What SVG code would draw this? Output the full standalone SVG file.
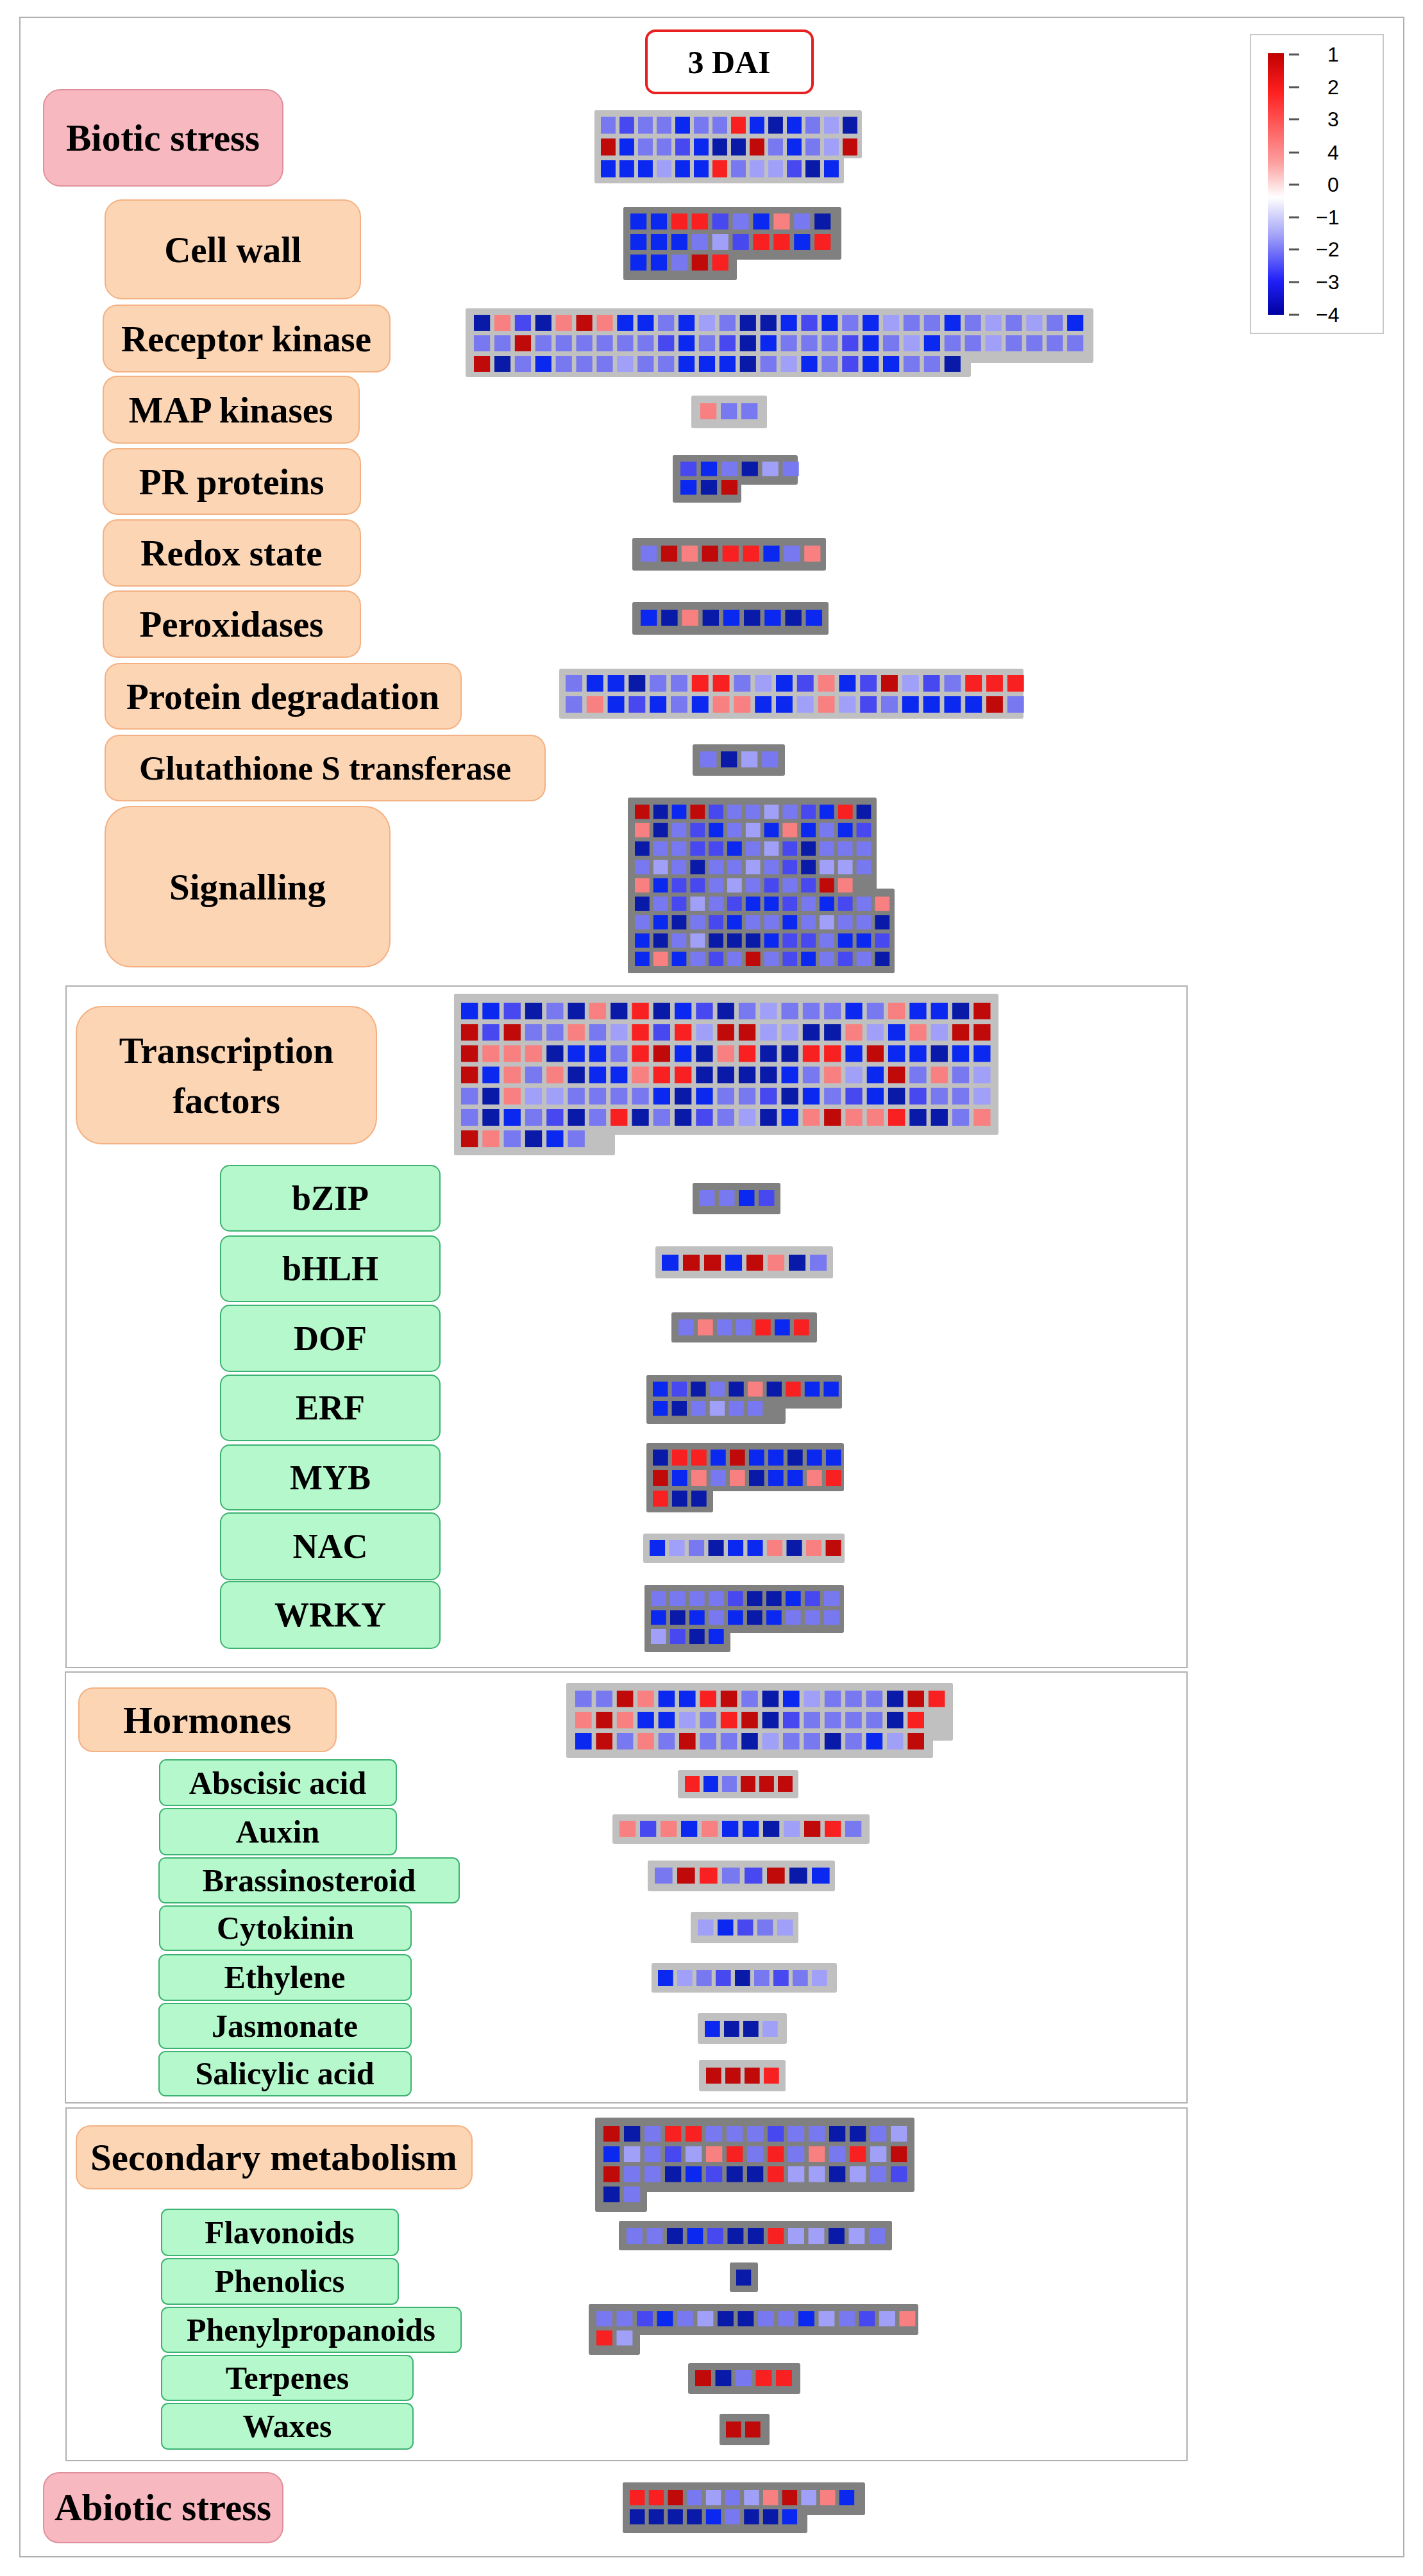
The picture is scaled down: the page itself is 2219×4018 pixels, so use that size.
<svg xmlns="http://www.w3.org/2000/svg" width="2219" height="4018" viewBox="0 0 2219 4018">
<style>
.N{fill:#0a1aa8}.B{fill:#0a28f0}.M{fill:#4848f0}.L{fill:#7878f0}.P{fill:#a0a0f8}.k{fill:#f88080}.R{fill:#f82020}.D{fill:#c00a0a}
.cells rect{width:.79px;height:.78px}
.lt{fill:#c0c0c0}.dk{fill:#808080}
.or{fill:#fcd5b4;stroke:#f4b183;stroke-width:2}
.pk{fill:#f8b8c0;stroke:#e0909a;stroke-width:2}
.gr{fill:#b5f8cb;stroke:#3cb371;stroke-width:2}
text{font-family:"Liberation Serif","Times New Roman",serif;font-weight:bold;fill:#000;text-anchor:middle;dominant-baseline:central}
.t50{font-size:57px}.t46{font-size:50px}.t48{font-size:59px}.t54{font-size:54px}
.frame{fill:none;stroke:#b0b0b0;stroke-width:2}
.lg{font-family:"Liberation Sans",Arial,sans-serif;font-size:32px;font-weight:normal;text-anchor:start}
</style>
<defs>
<linearGradient id="grad" x1="0" y1="0" x2="0" y2="1">
<stop offset="0" stop-color="#c00000"/><stop offset="0.15" stop-color="#ff2020"/><stop offset="0.42" stop-color="#fca0a0"/><stop offset="0.55" stop-color="#ffffff"/><stop offset="0.7" stop-color="#a0a0f8"/><stop offset="0.87" stop-color="#2020f8"/><stop offset="1" stop-color="#0000a0"/>
</linearGradient>
</defs>
<rect x="0" y="0" width="2219" height="4018" fill="#fff"/>
<rect class="frame" x="31" y="27" width="2158" height="3961" stroke="#ccc"/>
<g id="frames">
<rect class="frame" x="103" y="1538" width="1748" height="1063"/>
<rect class="frame" x="102" y="2608" width="1749" height="672"/>
<rect class="frame" x="103" y="3288" width="1748" height="550"/>
</g>
<g id="title"><rect x="1008" y="48" width="259" height="97" rx="14" fill="#fff" stroke="#e82020" stroke-width="4"/><text x="1137" y="97" font-size="50">3 DAI</text></g>
<g id="legend">
<rect x="1950" y="54" width="207" height="466" fill="#fff" stroke="#c8c8c8" stroke-width="2"/>
<rect x="1977" y="83" width="25" height="408" fill="url(#grad)"/>
<g stroke="#555" stroke-width="3"><line x1="2010" y1="85" x2="2026" y2="85"/><line x1="2010" y1="136" x2="2026" y2="136"/><line x1="2010" y1="186" x2="2026" y2="186"/><line x1="2010" y1="238" x2="2026" y2="238"/><line x1="2010" y1="288" x2="2026" y2="288"/><line x1="2010" y1="339" x2="2026" y2="339"/><line x1="2010" y1="389" x2="2026" y2="389"/><line x1="2010" y1="440" x2="2026" y2="440"/><line x1="2010" y1="491" x2="2026" y2="491"/></g>
<text class="lg" x="2070" y="85">1</text><text class="lg" x="2070" y="136">2</text><text class="lg" x="2070" y="186">3</text><text class="lg" x="2070" y="238">4</text><text class="lg" x="2070" y="288">0</text><text class="lg" x="2052" y="339">−1</text><text class="lg" x="2052" y="389">−2</text><text class="lg" x="2052" y="440">−3</text><text class="lg" x="2052" y="491" font-weight="bold">−4</text>
</g>

<g id="n-biotic"><rect class="pk" x="68" y="140" width="373" height="150" rx="26"/><text class="t48" x="254" y="215">Biotic stress</text>
<rect class="lt" x="927" y="172" width="417" height="75" rx="3"/><rect class="lt" x="927" y="172" width="389" height="114" rx="3"/>
<g class="cells" transform="translate(937,182) scale(29,34)">
<rect class="L"/><rect x="1" class="M"/><rect x="2" class="L"/><rect x="3" class="L"/><rect x="4" class="B"/><rect x="5" class="L"/><rect x="6" class="L"/><rect x="7" class="R"/><rect x="8" class="B"/><rect x="9" class="N"/><rect x="10" class="B"/><rect x="11" class="L"/><rect x="12" class="P"/><rect x="13" class="N"/>
<rect y="1" class="D"/><rect x="1" y="1" class="B"/><rect x="2" y="1" class="L"/><rect x="3" y="1" class="L"/><rect x="4" y="1" class="M"/><rect x="5" y="1" class="B"/><rect x="6" y="1" class="N"/><rect x="7" y="1" class="N"/><rect x="8" y="1" class="D"/><rect x="9" y="1" class="L"/><rect x="10" y="1" class="B"/><rect x="11" y="1" class="L"/><rect x="12" y="1" class="P"/><rect x="13" y="1" class="D"/>
<rect y="2" class="B"/><rect x="1" y="2" class="B"/><rect x="2" y="2" class="B"/><rect x="3" y="2" class="P"/><rect x="4" y="2" class="B"/><rect x="5" y="2" class="B"/><rect x="6" y="2" class="R"/><rect x="7" y="2" class="L"/><rect x="8" y="2" class="P"/><rect x="9" y="2" class="P"/><rect x="10" y="2" class="M"/><rect x="11" y="2" class="N"/><rect x="12" y="2" class="B"/>
</g></g>

<g id="n-cellwall"><rect class="or" x="164" y="312" width="398" height="154" rx="26"/><text class="t50" x="363" y="389">Cell wall</text>
<rect class="dk" x="972" y="323" width="340" height="82" rx="3"/><rect class="dk" x="972" y="323" width="177" height="114" rx="3"/>
<g class="cells" transform="translate(983,333) scale(31.9,32)">
<rect class="B"/><rect x="1" class="B"/><rect x="2" class="R"/><rect x="3" class="R"/><rect x="4" class="M"/><rect x="5" class="L"/><rect x="6" class="B"/><rect x="7" class="k"/><rect x="8" class="L"/><rect x="9" class="N"/>
<rect y="1" class="B"/><rect x="1" y="1" class="B"/><rect x="2" y="1" class="B"/><rect x="3" y="1" class="L"/><rect x="4" y="1" class="P"/><rect x="5" y="1" class="M"/><rect x="6" y="1" class="R"/><rect x="7" y="1" class="R"/><rect x="8" y="1" class="B"/><rect x="9" y="1" class="R"/>
<rect y="2" class="B"/><rect x="1" y="2" class="B"/><rect x="2" y="2" class="L"/><rect x="3" y="2" class="D"/><rect x="4" y="2" class="R"/>
</g></g>

<g id="n-receptor"><rect class="or" x="161" y="476" width="447" height="104" rx="22"/><text class="t50" x="384" y="528">Receptor kinase</text>
<rect class="lt" x="726" y="481" width="979" height="85" rx="3"/><rect class="lt" x="726" y="481" width="788" height="107" rx="3"/>
<g class="cells" transform="translate(739,491) scale(31.9,32)">
<rect class="N"/><rect x="1" class="k"/><rect x="2" class="M"/><rect x="3" class="N"/><rect x="4" class="k"/><rect x="5" class="D"/><rect x="6" class="k"/><rect x="7" class="B"/><rect x="8" class="B"/><rect x="9" class="L"/><rect x="10" class="B"/><rect x="11" class="P"/><rect x="12" class="L"/><rect x="13" class="N"/><rect x="14" class="N"/><rect x="15" class="B"/><rect x="16" class="M"/><rect x="17" class="B"/><rect x="18" class="L"/><rect x="19" class="B"/><rect x="20" class="P"/><rect x="21" class="L"/><rect x="22" class="L"/><rect x="23" class="B"/><rect x="24" class="L"/><rect x="25" class="P"/><rect x="26" class="L"/><rect x="27" class="P"/><rect x="28" class="L"/><rect x="29" class="B"/>
<rect y="1" class="L"/><rect x="1" y="1" class="L"/><rect x="2" y="1" class="D"/><rect x="3" y="1" class="L"/><rect x="4" y="1" class="L"/><rect x="5" y="1" class="L"/><rect x="6" y="1" class="L"/><rect x="7" y="1" class="L"/><rect x="8" y="1" class="L"/><rect x="9" y="1" class="M"/><rect x="10" y="1" class="B"/><rect x="11" y="1" class="L"/><rect x="12" y="1" class="M"/><rect x="13" y="1" class="N"/><rect x="14" y="1" class="B"/><rect x="15" y="1" class="L"/><rect x="16" y="1" class="L"/><rect x="17" y="1" class="L"/><rect x="18" y="1" class="M"/><rect x="19" y="1" class="B"/><rect x="20" y="1" class="L"/><rect x="21" y="1" class="P"/><rect x="22" y="1" class="B"/><rect x="23" y="1" class="L"/><rect x="24" y="1" class="L"/><rect x="25" y="1" class="P"/><rect x="26" y="1" class="L"/><rect x="27" y="1" class="L"/><rect x="28" y="1" class="L"/><rect x="29" y="1" class="L"/>
<rect y="2" class="D"/><rect x="1" y="2" class="N"/><rect x="2" y="2" class="L"/><rect x="3" y="2" class="B"/><rect x="4" y="2" class="L"/><rect x="5" y="2" class="L"/><rect x="6" y="2" class="L"/><rect x="7" y="2" class="P"/><rect x="8" y="2" class="L"/><rect x="9" y="2" class="L"/><rect x="10" y="2" class="B"/><rect x="11" y="2" class="B"/><rect x="12" y="2" class="B"/><rect x="13" y="2" class="N"/><rect x="14" y="2" class="L"/><rect x="15" y="2" class="P"/><rect x="16" y="2" class="B"/><rect x="17" y="2" class="L"/><rect x="18" y="2" class="M"/><rect x="19" y="2" class="B"/><rect x="20" y="2" class="B"/><rect x="21" y="2" class="L"/><rect x="22" y="2" class="L"/><rect x="23" y="2" class="N"/>
</g></g>

<g id="n-map"><rect class="or" x="161" y="587" width="399" height="104" rx="22"/><text class="t50" x="360" y="639">MAP kinases</text>
<rect class="lt" x="1078" y="617" width="118" height="51" rx="3"/>
<g class="cells" transform="translate(1092,629) scale(32,32)"><rect class="k"/><rect x="1" class="L"/><rect x="2" class="L"/></g></g>

<g id="n-pr"><rect class="or" x="161" y="700" width="401" height="102" rx="22"/><text class="t50" x="361" y="751">PR proteins</text>
<rect class="dk" x="1049" y="710" width="195" height="46" rx="3"/><rect class="dk" x="1049" y="710" width="107" height="74" rx="3"/>
<g class="cells" transform="translate(1061,720) scale(31.9,29)"><rect class="M"/><rect x="1" class="B"/><rect x="2" class="L"/><rect x="3" class="N"/><rect x="4" class="P"/><rect x="5" class="L"/>
<rect y="1" class="B"/><rect x="1" y="1" class="N"/><rect x="2" y="1" class="D"/></g></g>

<g id="n-redox"><rect class="or" x="161" y="811" width="401" height="103" rx="22"/><text class="t50" x="361" y="862">Redox state</text>
<rect class="dk" x="986" y="839" width="302" height="51" rx="3"/>
<g class="cells" transform="translate(999,851) scale(31.9,32)"><rect class="L"/><rect x="1" class="D"/><rect x="2" class="k"/><rect x="3" class="D"/><rect x="4" class="R"/><rect x="5" class="R"/><rect x="6" class="B"/><rect x="7" class="L"/><rect x="8" class="k"/></g></g>

<g id="n-perox"><rect class="or" x="161" y="922" width="401" height="103" rx="22"/><text class="t50" x="361" y="973">Peroxidases</text>
<rect class="dk" x="986" y="939" width="306" height="51" rx="3"/>
<g class="cells" transform="translate(999,951) scale(32.2,32)"><rect class="B"/><rect x="1" class="N"/><rect x="2" class="k"/><rect x="3" class="N"/><rect x="4" class="B"/><rect x="5" class="N"/><rect x="6" class="B"/><rect x="7" class="N"/><rect x="8" class="B"/></g></g>

<g id="n-protdeg"><rect class="or" x="164" y="1035" width="555" height="102" rx="22"/><text class="t50" x="441" y="1086">Protein degradation</text>
<rect class="lt" x="872" y="1043" width="724" height="78" rx="3"/>
<g class="cells" transform="translate(882,1053) scale(32.8,33)">
<rect class="L"/><rect x="1" class="B"/><rect x="2" class="B"/><rect x="3" class="N"/><rect x="4" class="L"/><rect x="5" class="L"/><rect x="6" class="R"/><rect x="7" class="R"/><rect x="8" class="L"/><rect x="9" class="P"/><rect x="10" class="B"/><rect x="11" class="M"/><rect x="12" class="k"/><rect x="13" class="B"/><rect x="14" class="M"/><rect x="15" class="D"/><rect x="16" class="P"/><rect x="17" class="M"/><rect x="18" class="L"/><rect x="19" class="R"/><rect x="20" class="R"/><rect x="21" class="R"/>
<rect y="1" class="L"/><rect x="1" y="1" class="k"/><rect x="2" y="1" class="B"/><rect x="3" y="1" class="M"/><rect x="4" y="1" class="B"/><rect x="5" y="1" class="L"/><rect x="6" y="1" class="B"/><rect x="7" y="1" class="k"/><rect x="8" y="1" class="k"/><rect x="9" y="1" class="B"/><rect x="10" y="1" class="B"/><rect x="11" y="1" class="P"/><rect x="12" y="1" class="k"/><rect x="13" y="1" class="P"/><rect x="14" y="1" class="M"/><rect x="15" y="1" class="L"/><rect x="16" y="1" class="B"/><rect x="17" y="1" class="B"/><rect x="18" y="1" class="B"/><rect x="19" y="1" class="B"/><rect x="20" y="1" class="D"/><rect x="21" y="1" class="L"/>
</g></g>

<g id="n-gst"><rect class="or" x="164" y="1147" width="686" height="102" rx="22"/><text x="507" y="1198" font-size="53">Glutathione S transferase</text>
<rect class="dk" x="1080" y="1161" width="144" height="49" rx="3"/>
<g class="cells" transform="translate(1092,1172) scale(32,32)"><rect class="L"/><rect x="1" class="N"/><rect x="2" class="P"/><rect x="3" class="L"/></g></g>

<g id="n-signal"><rect class="or" x="164" y="1258" width="444" height="250" rx="40"/><text class="t50" x="386" y="1383">Signalling</text>
<rect class="dk" x="979" y="1244" width="388" height="274" rx="3"/><rect class="dk" x="979" y="1386" width="416" height="132" rx="3"/>
<g class="cells" transform="translate(990,1255) scale(28.8,28.7)">
<rect class="D"/><rect x="1" class="N"/><rect x="2" class="B"/><rect x="3" class="D"/><rect x="4" class="M"/><rect x="5" class="L"/><rect x="6" class="L"/><rect x="7" class="P"/><rect x="8" class="L"/><rect x="9" class="M"/><rect x="10" class="B"/><rect x="11" class="R"/><rect x="12" class="N"/>
<rect y="1" class="k"/><rect x="1" y="1" class="N"/><rect x="2" y="1" class="L"/><rect x="3" y="1" class="M"/><rect x="4" y="1" class="B"/><rect x="5" y="1" class="L"/><rect x="6" y="1" class="P"/><rect x="7" y="1" class="B"/><rect x="8" y="1" class="k"/><rect x="9" y="1" class="B"/><rect x="10" y="1" class="L"/><rect x="11" y="1" class="B"/><rect x="12" y="1" class="M"/>
<rect y="2" class="N"/><rect x="1" y="2" class="L"/><rect x="2" y="2" class="L"/><rect x="3" y="2" class="M"/><rect x="4" y="2" class="M"/><rect x="5" y="2" class="B"/><rect x="6" y="2" class="L"/><rect x="7" y="2" class="P"/><rect x="8" y="2" class="M"/><rect x="9" y="2" class="N"/><rect x="10" y="2" class="L"/><rect x="11" y="2" class="L"/><rect x="12" y="2" class="L"/>
<rect y="3" class="L"/><rect x="1" y="3" class="P"/><rect x="2" y="3" class="L"/><rect x="3" y="3" class="N"/><rect x="4" y="3" class="L"/><rect x="5" y="3" class="L"/><rect x="6" y="3" class="P"/><rect x="7" y="3" class="L"/><rect x="8" y="3" class="M"/><rect x="9" y="3" class="N"/><rect x="10" y="3" class="P"/><rect x="11" y="3" class="P"/><rect x="12" y="3" class="L"/>
<rect y="4" class="k"/><rect x="1" y="4" class="B"/><rect x="2" y="4" class="M"/><rect x="3" y="4" class="M"/><rect x="4" y="4" class="L"/><rect x="5" y="4" class="P"/><rect x="6" y="4" class="L"/><rect x="7" y="4" class="M"/><rect x="8" y="4" class="L"/><rect x="9" y="4" class="M"/><rect x="10" y="4" class="D"/><rect x="11" y="4" class="k"/>
<rect y="5" class="N"/><rect x="1" y="5" class="L"/><rect x="2" y="5" class="M"/><rect x="3" y="5" class="P"/><rect x="4" y="5" class="L"/><rect x="5" y="5" class="M"/><rect x="6" y="5" class="B"/><rect x="7" y="5" class="B"/><rect x="8" y="5" class="M"/><rect x="9" y="5" class="L"/><rect x="10" y="5" class="B"/><rect x="11" y="5" class="M"/><rect x="12" y="5" class="L"/><rect x="13" y="5" class="k"/>
<rect y="6" class="L"/><rect x="1" y="6" class="B"/><rect x="2" y="6" class="N"/><rect x="3" y="6" class="L"/><rect x="4" y="6" class="M"/><rect x="5" y="6" class="B"/><rect x="6" y="6" class="L"/><rect x="7" y="6" class="L"/><rect x="8" y="6" class="B"/><rect x="9" y="6" class="L"/><rect x="10" y="6" class="P"/><rect x="11" y="6" class="L"/><rect x="12" y="6" class="L"/><rect x="13" y="6" class="N"/>
<rect y="7" class="B"/><rect x="1" y="7" class="N"/><rect x="2" y="7" class="L"/><rect x="3" y="7" class="P"/><rect x="4" y="7" class="N"/><rect x="5" y="7" class="N"/><rect x="6" y="7" class="N"/><rect x="7" y="7" class="B"/><rect x="8" y="7" class="M"/><rect x="9" y="7" class="M"/><rect x="10" y="7" class="L"/><rect x="11" y="7" class="B"/><rect x="12" y="7" class="B"/><rect x="13" y="7" class="M"/>
<rect y="8" class="B"/><rect x="1" y="8" class="k"/><rect x="2" y="8" class="B"/><rect x="3" y="8" class="L"/><rect x="4" y="8" class="M"/><rect x="5" y="8" class="L"/><rect x="6" y="8" class="D"/><rect x="7" y="8" class="L"/><rect x="8" y="8" class="M"/><rect x="9" y="8" class="B"/><rect x="10" y="8" class="L"/><rect x="11" y="8" class="M"/><rect x="12" y="8" class="L"/><rect x="13" y="8" class="N"/>
</g></g>

<g id="n-tf"><rect class="or" x="119" y="1570" width="468" height="214" rx="40"/><text class="t50" x="353" y="1638">Transcription</text><text class="t50" x="353" y="1716">factors</text>
<rect class="lt" x="708" y="1550" width="849" height="220" rx="3"/><rect class="lt" x="708" y="1550" width="251" height="252" rx="3"/>
<g class="cells" transform="translate(719,1564) scale(33.3,33.2)">
<rect class="B"/><rect x="1" class="B"/><rect x="2" class="M"/><rect x="3" class="N"/><rect x="4" class="L"/><rect x="5" class="N"/><rect x="6" class="k"/><rect x="7" class="N"/><rect x="8" class="R"/><rect x="9" class="N"/><rect x="10" class="B"/><rect x="11" class="M"/><rect x="12" class="N"/><rect x="13" class="L"/><rect x="14" class="P"/><rect x="15" class="L"/><rect x="16" class="L"/><rect x="17" class="L"/><rect x="18" class="B"/><rect x="19" class="L"/><rect x="20" class="k"/><rect x="21" class="B"/><rect x="22" class="B"/><rect x="23" class="N"/><rect x="24" class="D"/>
<rect y="1" class="D"/><rect x="1" y="1" class="M"/><rect x="2" y="1" class="D"/><rect x="3" y="1" class="L"/><rect x="4" y="1" class="L"/><rect x="5" y="1" class="k"/><rect x="6" y="1" class="L"/><rect x="7" y="1" class="P"/><rect x="8" y="1" class="R"/><rect x="9" y="1" class="M"/><rect x="10" y="1" class="R"/><rect x="11" y="1" class="P"/><rect x="12" y="1" class="D"/><rect x="13" y="1" class="D"/><rect x="14" y="1" class="P"/><rect x="15" y="1" class="P"/><rect x="16" y="1" class="N"/><rect x="17" y="1" class="N"/><rect x="18" y="1" class="k"/><rect x="19" y="1" class="P"/><rect x="20" y="1" class="B"/><rect x="21" y="1" class="k"/><rect x="22" y="1" class="P"/><rect x="23" y="1" class="D"/><rect x="24" y="1" class="D"/>
<rect y="2" class="D"/><rect x="1" y="2" class="k"/><rect x="2" y="2" class="k"/><rect x="3" y="2" class="k"/><rect x="4" y="2" class="N"/><rect x="5" y="2" class="B"/><rect x="6" y="2" class="B"/><rect x="7" y="2" class="L"/><rect x="8" y="2" class="R"/><rect x="9" y="2" class="D"/><rect x="10" y="2" class="B"/><rect x="11" y="2" class="N"/><rect x="12" y="2" class="k"/><rect x="13" y="2" class="R"/><rect x="14" y="2" class="N"/><rect x="15" y="2" class="N"/><rect x="16" y="2" class="R"/><rect x="17" y="2" class="R"/><rect x="18" y="2" class="B"/><rect x="19" y="2" class="D"/><rect x="20" y="2" class="B"/><rect x="21" y="2" class="B"/><rect x="22" y="2" class="N"/><rect x="23" y="2" class="B"/><rect x="24" y="2" class="B"/>
<rect y="3" class="D"/><rect x="1" y="3" class="B"/><rect x="2" y="3" class="k"/><rect x="3" y="3" class="L"/><rect x="4" y="3" class="k"/><rect x="5" y="3" class="N"/><rect x="6" y="3" class="B"/><rect x="7" y="3" class="B"/><rect x="8" y="3" class="k"/><rect x="9" y="3" class="R"/><rect x="10" y="3" class="R"/><rect x="11" y="3" class="N"/><rect x="12" y="3" class="N"/><rect x="13" y="3" class="N"/><rect x="14" y="3" class="N"/><rect x="15" y="3" class="B"/><rect x="16" y="3" class="L"/><rect x="17" y="3" class="k"/><rect x="18" y="3" class="P"/><rect x="19" y="3" class="B"/><rect x="20" y="3" class="D"/><rect x="21" y="3" class="L"/><rect x="22" y="3" class="k"/><rect x="23" y="3" class="L"/><rect x="24" y="3" class="P"/>
<rect y="4" class="L"/><rect x="1" y="4" class="N"/><rect x="2" y="4" class="k"/><rect x="3" y="4" class="P"/><rect x="4" y="4" class="P"/><rect x="5" y="4" class="L"/><rect x="6" y="4" class="L"/><rect x="7" y="4" class="L"/><rect x="8" y="4" class="L"/><rect x="9" y="4" class="B"/><rect x="10" y="4" class="N"/><rect x="11" y="4" class="B"/><rect x="12" y="4" class="L"/><rect x="13" y="4" class="L"/><rect x="14" y="4" class="M"/><rect x="15" y="4" class="N"/><rect x="16" y="4" class="B"/><rect x="17" y="4" class="L"/><rect x="18" y="4" class="M"/><rect x="19" y="4" class="B"/><rect x="20" y="4" class="N"/><rect x="21" y="4" class="M"/><rect x="22" y="4" class="L"/><rect x="23" y="4" class="L"/><rect x="24" y="4" class="P"/>
<rect y="5" class="L"/><rect x="1" y="5" class="N"/><rect x="2" y="5" class="B"/><rect x="3" y="5" class="L"/><rect x="4" y="5" class="M"/><rect x="5" y="5" class="N"/><rect x="6" y="5" class="L"/><rect x="7" y="5" class="R"/><rect x="8" y="5" class="N"/><rect x="9" y="5" class="L"/><rect x="10" y="5" class="N"/><rect x="11" y="5" class="M"/><rect x="12" y="5" class="L"/><rect x="13" y="5" class="P"/><rect x="14" y="5" class="N"/><rect x="15" y="5" class="B"/><rect x="16" y="5" class="k"/><rect x="17" y="5" class="D"/><rect x="18" y="5" class="k"/><rect x="19" y="5" class="k"/><rect x="20" y="5" class="R"/><rect x="21" y="5" class="N"/><rect x="22" y="5" class="N"/><rect x="23" y="5" class="L"/><rect x="24" y="5" class="k"/>
<rect y="6" class="D"/><rect x="1" y="6" class="k"/><rect x="2" y="6" class="L"/><rect x="3" y="6" class="N"/><rect x="4" y="6" class="B"/><rect x="5" y="6" class="L"/>
</g></g>

<g id="n-bzip"><rect class="gr" x="344" y="1818" width="342" height="102" rx="14"/><text class="t54" x="515" y="1869">bZIP</text>
<rect class="dk" x="1080" y="1845" width="137" height="49" rx="3"/>
<g class="cells" transform="translate(1090,1856) scale(31,32)"><rect class="L"/><rect x="1" class="L"/><rect x="2" class="B"/><rect x="3" class="M"/></g></g>

<g id="n-bhlh"><rect class="gr" x="344" y="1928" width="342" height="102" rx="14"/><text class="t54" x="515" y="1979">bHLH</text>
<rect class="lt" x="1022" y="1944" width="277" height="50" rx="3"/>
<g class="cells" transform="translate(1032,1957) scale(33,32)"><rect class="B"/><rect x="1" class="D"/><rect x="2" class="D"/><rect x="3" class="B"/><rect x="4" class="D"/><rect x="5" class="k"/><rect x="6" class="N"/><rect x="7" class="L"/></g></g>

<g id="n-dof"><rect class="gr" x="344" y="2036" width="342" height="103" rx="14"/><text class="t54" x="515" y="2088">DOF</text>
<rect class="dk" x="1047" y="2047" width="227" height="47" rx="3"/>
<g class="cells" transform="translate(1058,2058) scale(30,32)"><rect class="L"/><rect x="1" class="k"/><rect x="2" class="L"/><rect x="3" class="L"/><rect x="4" class="R"/><rect x="5" class="B"/><rect x="6" class="R"/></g></g>

<g id="n-erf"><rect class="gr" x="344" y="2145" width="342" height="102" rx="14"/><text class="t54" x="515" y="2196">ERF</text>
<rect class="dk" x="1008" y="2145" width="305" height="52" rx="3"/><rect class="dk" x="1008" y="2145" width="217" height="76" rx="3"/>
<g class="cells" transform="translate(1018,2155) scale(29.6,30)"><rect class="B"/><rect x="1" class="M"/><rect x="2" class="N"/><rect x="3" class="L"/><rect x="4" class="N"/><rect x="5" class="k"/><rect x="6" class="N"/><rect x="7" class="R"/><rect x="8" class="B"/><rect x="9" class="B"/>
<rect y="1" class="B"/><rect x="1" y="1" class="N"/><rect x="2" y="1" class="L"/><rect x="3" y="1" class="P"/><rect x="4" y="1" class="L"/><rect x="5" y="1" class="L"/></g></g>

<g id="n-myb"><rect class="gr" x="344" y="2254" width="342" height="101" rx="14"/><text class="t54" x="515" y="2305">MYB</text>
<rect class="dk" x="1008" y="2251" width="308" height="75" rx="3"/><rect class="dk" x="1008" y="2251" width="104" height="108" rx="3"/>
<g class="cells" transform="translate(1018,2261) scale(30,32)"><rect class="N"/><rect x="1" class="R"/><rect x="2" class="R"/><rect x="3" class="B"/><rect x="4" class="D"/><rect x="5" class="B"/><rect x="6" class="B"/><rect x="7" class="N"/><rect x="8" class="B"/><rect x="9" class="B"/>
<rect y="1" class="D"/><rect x="1" y="1" class="B"/><rect x="2" y="1" class="k"/><rect x="3" y="1" class="L"/><rect x="4" y="1" class="k"/><rect x="5" y="1" class="N"/><rect x="6" y="1" class="B"/><rect x="7" y="1" class="B"/><rect x="8" y="1" class="k"/><rect x="9" y="1" class="R"/>
<rect y="2" class="R"/><rect x="1" y="2" class="N"/><rect x="2" y="2" class="N"/></g></g>

<g id="n-nac"><rect class="gr" x="344" y="2360" width="342" height="104" rx="14"/><text class="t54" x="515" y="2412">NAC</text>
<rect class="lt" x="1003" y="2392" width="314" height="46" rx="3"/>
<g class="cells" transform="translate(1013,2402) scale(30.5,32)"><rect class="B"/><rect x="1" class="P"/><rect x="2" class="L"/><rect x="3" class="N"/><rect x="4" class="B"/><rect x="5" class="B"/><rect x="6" class="k"/><rect x="7" class="N"/><rect x="8" class="k"/><rect x="9" class="D"/></g></g>

<g id="n-wrky"><rect class="gr" x="344" y="2467" width="342" height="104" rx="14"/><text class="t54" x="515" y="2519">WRKY</text>
<rect class="dk" x="1005" y="2472" width="311" height="75" rx="3"/><rect class="dk" x="1005" y="2472" width="134" height="105" rx="3"/>
<g class="cells" transform="translate(1015,2482) scale(30,29.5)"><rect class="L"/><rect x="1" class="L"/><rect x="2" class="L"/><rect x="3" class="L"/><rect x="4" class="M"/><rect x="5" class="N"/><rect x="6" class="N"/><rect x="7" class="B"/><rect x="8" class="M"/><rect x="9" class="L"/>
<rect y="1" class="B"/><rect x="1" y="1" class="N"/><rect x="2" y="1" class="B"/><rect x="3" y="1" class="L"/><rect x="4" y="1" class="B"/><rect x="5" y="1" class="N"/><rect x="6" y="1" class="B"/><rect x="7" y="1" class="L"/><rect x="8" y="1" class="L"/><rect x="9" y="1" class="L"/>
<rect y="2" class="P"/><rect x="1" y="2" class="M"/><rect x="2" y="2" class="N"/><rect x="3" y="2" class="B"/></g></g>

<g id="n-hormones"><rect class="or" x="123" y="2633" width="401" height="99" rx="22"/><text class="t48" x="323" y="2683">Hormones</text>
<rect class="lt" x="883" y="2625" width="603" height="90" rx="3"/><rect class="lt" x="883" y="2625" width="572" height="117" rx="3"/>
<g class="cells" transform="translate(897,2637) scale(32.4,33)">
<rect class="L"/><rect x="1" class="L"/><rect x="2" class="D"/><rect x="3" class="k"/><rect x="4" class="B"/><rect x="5" class="B"/><rect x="6" class="R"/><rect x="7" class="D"/><rect x="8" class="L"/><rect x="9" class="N"/><rect x="10" class="B"/><rect x="11" class="P"/><rect x="12" class="L"/><rect x="13" class="L"/><rect x="14" class="L"/><rect x="15" class="N"/><rect x="16" class="D"/><rect x="17" class="R"/>
<rect y="1" class="k"/><rect x="1" y="1" class="D"/><rect x="2" y="1" class="k"/><rect x="3" y="1" class="B"/><rect x="4" y="1" class="B"/><rect x="5" y="1" class="P"/><rect x="6" y="1" class="L"/><rect x="7" y="1" class="R"/><rect x="8" y="1" class="D"/><rect x="9" y="1" class="N"/><rect x="10" y="1" class="M"/><rect x="11" y="1" class="L"/><rect x="12" y="1" class="L"/><rect x="13" y="1" class="L"/><rect x="14" y="1" class="L"/><rect x="15" y="1" class="N"/><rect x="16" y="1" class="R"/>
<rect y="2" class="B"/><rect x="1" y="2" class="D"/><rect x="2" y="2" class="L"/><rect x="3" y="2" class="k"/><rect x="4" y="2" class="L"/><rect x="5" y="2" class="D"/><rect x="6" y="2" class="L"/><rect x="7" y="2" class="L"/><rect x="8" y="2" class="N"/><rect x="9" y="2" class="P"/><rect x="10" y="2" class="L"/><rect x="11" y="2" class="L"/><rect x="12" y="2" class="N"/><rect x="13" y="2" class="L"/><rect x="14" y="2" class="B"/><rect x="15" y="2" class="P"/><rect x="16" y="2" class="D"/>
</g></g>

<g id="n-aba"><rect class="gr" x="249" y="2745" width="369" height="71" rx="10"/><text class="t46" x="433" y="2781">Abscisic acid</text>
<rect class="lt" x="1057" y="2761" width="188" height="44" rx="3"/>
<g class="cells" transform="translate(1068,2770) scale(29,32)"><rect class="R"/><rect x="1" class="B"/><rect x="2" class="L"/><rect x="3" class="D"/><rect x="4" class="D"/><rect x="5" class="D"/></g></g>

<g id="n-auxin"><rect class="gr" x="249" y="2821" width="369" height="72" rx="10"/><text class="t46" x="433" y="2857">Auxin</text>
<rect class="lt" x="955" y="2830" width="401" height="46" rx="3"/>
<g class="cells" transform="translate(966,2840) scale(32,32)"><rect class="k"/><rect x="1" class="M"/><rect x="2" class="k"/><rect x="3" class="B"/><rect x="4" class="k"/><rect x="5" class="B"/><rect x="6" class="B"/><rect x="7" class="N"/><rect x="8" class="P"/><rect x="9" class="D"/><rect x="10" class="R"/><rect x="11" class="L"/></g></g>

<g id="n-brass"><rect class="gr" x="248" y="2898" width="468" height="70" rx="10"/><text class="t46" x="482" y="2933">Brassinosteroid</text>
<rect class="lt" x="1010" y="2902" width="292" height="48" rx="3"/>
<g class="cells" transform="translate(1021,2913) scale(35,32)"><rect class="L"/><rect x="1" class="D"/><rect x="2" class="R"/><rect x="3" class="L"/><rect x="4" class="M"/><rect x="5" class="D"/><rect x="6" class="N"/><rect x="7" class="B"/></g></g>

<g id="n-cyto"><rect class="gr" x="249" y="2973" width="392" height="69" rx="10"/><text class="t46" x="445" y="3007">Cytokinin</text>
<rect class="lt" x="1077" y="2982" width="168" height="49" rx="3"/>
<g class="cells" transform="translate(1088,2994) scale(31,32)"><rect class="P"/><rect x="1" class="B"/><rect x="2" class="M"/><rect x="3" class="L"/><rect x="4" class="P"/></g></g>

<g id="n-eth"><rect class="gr" x="248" y="3049" width="393" height="71" rx="10"/><text class="t46" x="444" y="3084">Ethylene</text>
<rect class="lt" x="1016" y="3062" width="289" height="46" rx="3"/>
<g class="cells" transform="translate(1026,3073) scale(30,32)"><rect class="B"/><rect x="1" class="P"/><rect x="2" class="L"/><rect x="3" class="M"/><rect x="4" class="N"/><rect x="5" class="L"/><rect x="6" class="M"/><rect x="7" class="L"/><rect x="8" class="P"/></g></g>

<g id="n-jas"><rect class="gr" x="248" y="3125" width="393" height="70" rx="10"/><text class="t46" x="444" y="3160">Jasmonate</text>
<rect class="lt" x="1088" y="3140" width="139" height="48" rx="3"/>
<g class="cells" transform="translate(1099,3152) scale(30,32)"><rect class="B"/><rect x="1" class="N"/><rect x="2" class="N"/><rect x="3" class="P"/></g></g>

<g id="n-sal"><rect class="gr" x="248" y="3200" width="393" height="69" rx="10"/><text class="t46" x="444" y="3234">Salicylic acid</text>
<rect class="lt" x="1090" y="3213" width="135" height="49" rx="3"/>
<g class="cells" transform="translate(1101,3225) scale(30,32)"><rect class="D"/><rect x="1" class="D"/><rect x="2" class="D"/><rect x="3" class="R"/></g></g>

<g id="n-secmet"><rect class="or" x="119" y="3316" width="617" height="98" rx="22"/><text class="t48" x="427" y="3365">Secondary metabolism</text>
<rect class="dk" x="928" y="3303" width="498" height="116" rx="3"/><rect class="dk" x="928" y="3303" width="81" height="147" rx="3"/>
<g class="cells" transform="translate(941,3316) scale(32,31.5)">
<rect class="D"/><rect x="1" class="N"/><rect x="2" class="L"/><rect x="3" class="R"/><rect x="4" class="R"/><rect x="5" class="L"/><rect x="6" class="L"/><rect x="7" class="L"/><rect x="8" class="M"/><rect x="9" class="L"/><rect x="10" class="L"/><rect x="11" class="N"/><rect x="12" class="N"/><rect x="13" class="L"/><rect x="14" class="P"/>
<rect y="1" class="B"/><rect x="1" y="1" class="P"/><rect x="2" y="1" class="L"/><rect x="3" y="1" class="M"/><rect x="4" y="1" class="P"/><rect x="5" y="1" class="k"/><rect x="6" y="1" class="R"/><rect x="7" y="1" class="L"/><rect x="8" y="1" class="R"/><rect x="9" y="1" class="L"/><rect x="10" y="1" class="k"/><rect x="11" y="1" class="L"/><rect x="12" y="1" class="R"/><rect x="13" y="1" class="P"/><rect x="14" y="1" class="D"/>
<rect y="2" class="D"/><rect x="1" y="2" class="L"/><rect x="2" y="2" class="L"/><rect x="3" y="2" class="N"/><rect x="4" y="2" class="B"/><rect x="5" y="2" class="M"/><rect x="6" y="2" class="N"/><rect x="7" y="2" class="N"/><rect x="8" y="2" class="R"/><rect x="9" y="2" class="P"/><rect x="10" y="2" class="P"/><rect x="11" y="2" class="N"/><rect x="12" y="2" class="P"/><rect x="13" y="2" class="L"/><rect x="14" y="2" class="M"/>
<rect y="3" class="N"/><rect x="1" y="3" class="L"/>
</g></g>

<g id="n-flav"><rect class="gr" x="252" y="3446" width="369" height="72" rx="10"/><text class="t46" x="436" y="3482">Flavonoids</text>
<rect class="dk" x="965" y="3464" width="426" height="46" rx="3"/>
<g class="cells" transform="translate(977,3475) scale(31.5,32)"><rect class="L"/><rect x="1" class="L"/><rect x="2" class="N"/><rect x="3" class="B"/><rect x="4" class="M"/><rect x="5" class="N"/><rect x="6" class="N"/><rect x="7" class="R"/><rect x="8" class="P"/><rect x="9" class="P"/><rect x="10" class="N"/><rect x="11" class="P"/><rect x="12" class="L"/></g></g>

<g id="n-phen"><rect class="gr" x="252" y="3523" width="369" height="71" rx="10"/><text class="t46" x="436" y="3558">Phenolics</text>
<rect class="dk" x="1138" y="3529" width="44" height="46" rx="3"/>
<g class="cells" transform="translate(1148,3540) scale(31,32)"><rect class="N" style="width:.75px"/></g></g>

<g id="n-phenyl"><rect class="gr" x="252" y="3599" width="467" height="70" rx="10"/><text class="t46" x="485" y="3634">Phenylpropanoids</text>
<rect class="dk" x="918" y="3594" width="514" height="48" rx="3"/><rect class="dk" x="918" y="3594" width="80" height="79" rx="3"/>
<g class="cells" transform="translate(930,3605) scale(31.5,30)"><rect class="L"/><rect x="1" class="L"/><rect x="2" class="M"/><rect x="3" class="B"/><rect x="4" class="L"/><rect x="5" class="P"/><rect x="6" class="N"/><rect x="7" class="N"/><rect x="8" class="L"/><rect x="9" class="L"/><rect x="10" class="B"/><rect x="11" class="P"/><rect x="12" class="L"/><rect x="13" class="M"/><rect x="14" class="P"/><rect x="15" class="k"/>
<rect y="1" class="R"/><rect x="1" y="1" class="P"/></g></g>

<g id="n-terp"><rect class="gr" x="252" y="3674" width="392" height="70" rx="10"/><text class="t46" x="448" y="3709">Terpenes</text>
<rect class="dk" x="1073" y="3686" width="175" height="48" rx="3"/>
<g class="cells" transform="translate(1084,3697) scale(31.5,32)"><rect class="D"/><rect x="1" class="N"/><rect x="2" class="L"/><rect x="3" class="R"/><rect x="4" class="R"/></g></g>

<g id="n-wax"><rect class="gr" x="252" y="3749" width="392" height="71" rx="10"/><text class="t46" x="448" y="3784">Waxes</text>
<rect class="dk" x="1122" y="3765" width="78" height="49" rx="3"/>
<g class="cells" transform="translate(1132,3777) scale(30,32)"><rect class="D"/><rect x="1" class="D"/></g></g>

<g id="n-abiotic"><rect class="pk" x="68" y="3857" width="373" height="109" rx="24"/><text class="t48" x="254" y="3911">Abiotic stress</text>
<rect class="dk" x="971" y="3872" width="378" height="51" rx="3"/><rect class="dk" x="971" y="3872" width="288" height="79" rx="3"/>
<g class="cells" transform="translate(982,3884) scale(29.7,30)"><rect class="R"/><rect x="1" class="R"/><rect x="2" class="D"/><rect x="3" class="L"/><rect x="4" class="P"/><rect x="5" class="L"/><rect x="6" class="P"/><rect x="7" class="k"/><rect x="8" class="D"/><rect x="9" class="P"/><rect x="10" class="k"/><rect x="11" class="B"/>
<rect y="1" class="N"/><rect x="1" y="1" class="N"/><rect x="2" y="1" class="N"/><rect x="3" y="1" class="N"/><rect x="4" y="1" class="B"/><rect x="5" y="1" class="L"/><rect x="6" y="1" class="N"/><rect x="7" y="1" class="N"/><rect x="8" y="1" class="B"/></g></g>
<g id="connectors"/>
</svg>
